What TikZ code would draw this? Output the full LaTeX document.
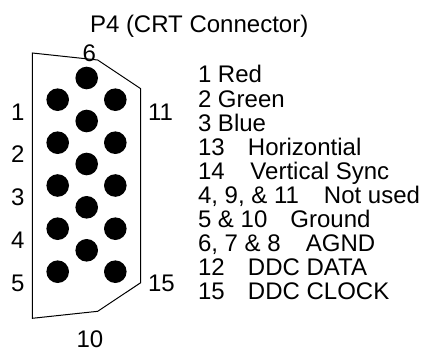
\documentclass[tikz,border=0pt]{standalone}
\usepackage{fontspec}
\setmainfont{Liberation Sans}
\tikzset{
  x=1pt,y=-1pt,
  pin/.style={circle,fill=black,draw=none,minimum size=22.6pt,inner sep=0pt},
  lab/.style={anchor=base west,inner sep=0pt,outer sep=0pt,font=\fontsize{24}{24}\selectfont},
  shell/.style={draw=black,line width=1pt,line join=miter}
}
\newcommand{\col}[2]{\makebox[#1pt][l]{#2}}
\begin{document}
\begin{tikzpicture}
\useasboundingbox (0,0) rectangle (422,350);
\draw[shell] (32.3,53) -- (97.7,60) -- (140.7,88.7) -- (140.7,282.7) -- (97.7,311.3) -- (32.3,318.3) -- cycle;
\foreach \n/\x/\y in {a/86.7/78,b/57.7/99.7,c/115.3/99.7,d/86.7/121,e/57.7/142.7,f/115.3/142.7,g/86.7/164,h/57.7/185.5,i/115.3/185.5,j/86.7/207.3,k/57.7/228.7,l/115.3/228.7,m/86.7/250.3,n/57.7/271.7,o/115.3/271.7}
  \node[pin] (p\n) at (\x,\y) {};
\node[lab] (title) at (90,33) {P4 (CRT Connector)};
\node[lab] (n1) at (11,120) {1};
\node[lab] (n2) at (11,162.7) {2};
\node[lab] (n3) at (11,205) {3};
\node[lab] (n4) at (11,248.3) {4};
\node[lab] (n5) at (11,291) {5};
\node[lab] (n6) at (82.5,61.7) {6};
\node[lab] (n11) at (148,120) {11};
\node[lab] (n15) at (148,291) {15};
\node[lab] (n10) at (76.5,347.5) {10};
\node[lab] (t1) at (198,83) {1 Red};
\node[lab] (t2) at (198,107) {2 Green};
\node[lab] (t3) at (198,131) {3 Blue};
\node[lab] (t4) at (198,155) {\col{50}{13}Horizontial};
\node[lab] (t5) at (198,179) {\col{52.5}{14}Vertical Sync};
\node[lab] (t6) at (198,203) {\col{126}{4, 9, \& 11}Not used};
\node[lab] (t7) at (198,227) {\col{92.5}{5 \& 10}Ground};
\node[lab] (t8) at (198,251) {\col{108}{6, 7 \& 8}AGND};
\node[lab] (t9) at (198,275) {\col{50}{12}DDC DATA};
\node[lab] (t10) at (198,299) {\col{50}{15}DDC CLOCK};
\end{tikzpicture}
\end{document}
